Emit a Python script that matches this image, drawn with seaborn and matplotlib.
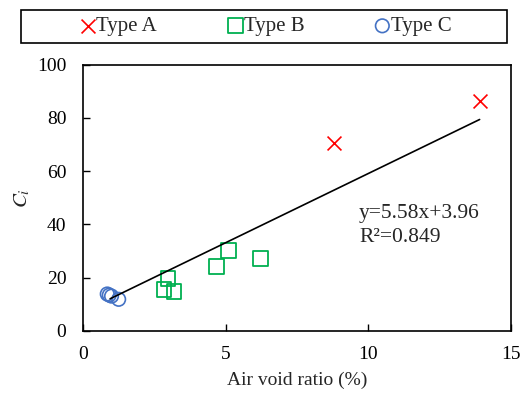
import matplotlib
matplotlib.use('Agg')
import matplotlib.pyplot as plt
import numpy as np
import pandas as pd
import seaborn as sns
from matplotlib.patches import Rectangle

# values
a_void = [8.8, 13.9]
a_ci = [70.5, 86.5]
b_void = [2.98, 2.84, 3.19, 4.67, 5.09, 6.21]
b_ci = [19.5, 15.4, 14.6, 24.0, 30.0, 27.0]
c_void = [0.85, 0.92, 1.0, 1.25]
c_ci = [13.8, 13.4, 13.0, 11.8]
# trend line as drawn in the reference
fit_void = [0.95, 13.9]
fit_ci = [12.0, 79.4]

df = pd.DataFrame({
    'void': a_void + b_void + c_void,
    'ci': a_ci + b_ci + c_ci,
    'type': ['Type A'] * len(a_void) + ['Type B'] * len(b_void) + ['Type C'] * len(c_void),
})

sns.set_style('ticks')
plt.rcParams['font.family'] = ['Liberation Serif', 'DejaVu Serif']
plt.rcParams['mathtext.fontset'] = 'stix'

fig, ax = plt.subplots(figsize=(5.2, 3.94), dpi=100)
fig.subplots_adjust(left=83/520, right=511/520, top=1-64.7/394, bottom=1-330.7/394)

sns.lineplot(x=fit_void, y=fit_ci, color='black', lw=1.2, ax=ax)

da = df[df['type'] == 'Type A']
db = df[df['type'] == 'Type B']
dc = df[df['type'] == 'Type C']
sns.scatterplot(x=da['void'], y=da['ci'], marker='x', s=100, color='red',
                linewidth=1.2, label='Type A', ax=ax)
sns.scatterplot(x=db['void'], y=db['ci'], marker='s', s=115, facecolor='none',
                edgecolor='#00B050', linewidth=1.3, label='Type B', ax=ax)
sns.scatterplot(x=dc['void'], y=dc['ci'], marker='o', s=95, facecolor='none',
                edgecolor='#4472C4', linewidth=1.2, label='Type C', ax=ax)

handles, labels = ax.get_legend_handles_labels()
ax.get_legend().remove()
fig.legend(handles, labels, loc='center', bbox_to_anchor=(266/520, 1-26.5/394),
           ncol=3, frameon=False, fontsize=15, handlelength=0.7,
           handletextpad=0.05, columnspacing=3.4, borderpad=0.2)
fig.patches.append(Rectangle((21/520, 1-43/394), 486/520, 33/394,
                             transform=fig.transFigure, fill=False,
                             edgecolor='black', linewidth=1.2))

ax.text(9.68, 44.2, 'y=5.58x+3.96', fontsize=15.5, va='center', ha='left')
ax.text(9.68, 35.2, 'R²=0.849', fontsize=15.5, va='center', ha='left')

ax.set_xlim(0, 15)
ax.set_ylim(0, 100)
ax.set_xticks([0, 5, 10, 15])
ax.set_yticks([0, 20, 40, 60, 80, 100])
ax.tick_params(direction='in', length=5, width=1, labelsize=14, colors='black')
ax.tick_params(axis='y', pad=12)
ax.tick_params(axis='x', pad=11)
ax.set_xlabel('Air void ratio (%)', fontsize=14, labelpad=6)
ax.set_ylabel(r'$C_i$', fontsize=15, labelpad=3)
for sp in ax.spines.values():
    sp.set_visible(True)
    sp.set_color('black')
    sp.set_linewidth(1.2)

fig.savefig('out.png', dpi=100)
